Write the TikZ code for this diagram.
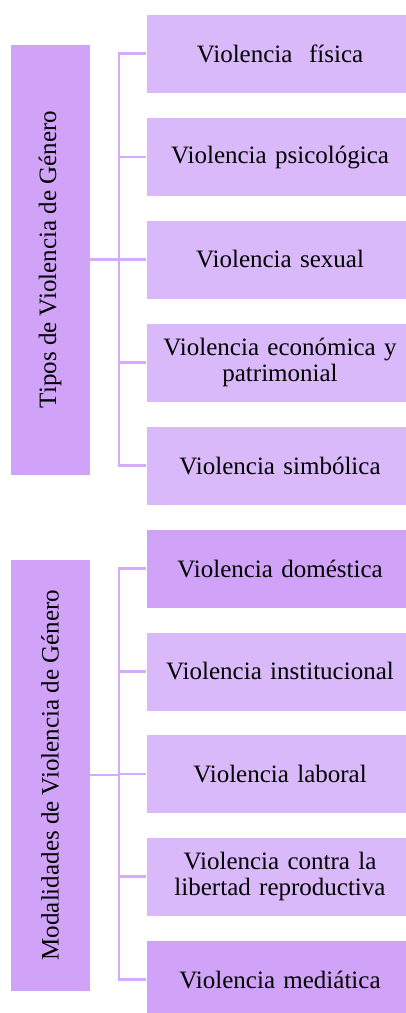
\documentclass[tikz,border=0pt]{standalone}
\usepackage{fontspec}
\setmainfont{Liberation Serif}
\definecolor{lila}{RGB}{218,185,251}
\definecolor{lilaosc}{RGB}{208,163,248}
\definecolor{linea}{RGB}{212,172,250}
\tikzset{
  caja/.style={fill=lila,draw=white,line width=0.8pt,minimum width=268,minimum height=79,
    text width=262,align=center,inner sep=0pt,font=\fontsize{25}{26}\selectfont},
  cajaosc/.style={caja,fill=lilaosc},
  lateral/.style={fill=lilaosc,draw=white,line width=0.8pt,rotate=90,minimum height=80,
    inner sep=0pt,font=\fontsize{25}{26}\selectfont},
  conector/.style={draw=linea,line width=2.5pt}
}
\begin{document}
\begin{tikzpicture}[x=1pt,y=-1pt]
\useasboundingbox (0,0) rectangle (406,1013);
% tipos
\node[lateral,minimum width=431] (tipos) at (50,259.5) {Tipos de Violencia de Género};
\node[caja] (t1) at (280,53.5) {Violencia\ \ física};
\node[caja] (t2) at (280,157) {Violencia psicológica};
\node[caja] (t3) at (280,259.5) {Violencia sexual};
\node[caja] (t4) at (280,362.5) {Violencia económica y\\patrimonial};
\node[caja] (t5) at (280,465.5) {Violencia simbólica};
\coordinate (tb) at (119,259.5);
\draw[conector] (tipos.south) -- (tb);
\draw[conector] (t1.west) -| (tb) |- (t5.west);
\foreach \n in {2,3,4} \draw[conector] (t\n.west) -- (t\n.west -| tb);
% modalidades
\node[lateral,minimum width=432] (modos) at (50,775) {Modalidades de Violencia de Género};
\node[cajaosc] (m1) at (280,568.5) {Violencia doméstica};
\node[caja] (m2) at (280,671.5) {Violencia institucional};
\node[caja] (m3) at (280,774) {Violencia laboral};
\node[caja] (m4) at (280,876.5) {Violencia contra la\\libertad reproductiva};
\node[cajaosc] (m5) at (280,979.5) {Violencia mediática};
\coordinate (mb) at (119,775);
\draw[conector] (modos.south) -- (mb);
\draw[conector] (m1.west) -| (mb) |- (m5.west);
\foreach \n in {2,3,4} \draw[conector] (m\n.west) -- (m\n.west -| mb);
\end{tikzpicture}
\end{document}
